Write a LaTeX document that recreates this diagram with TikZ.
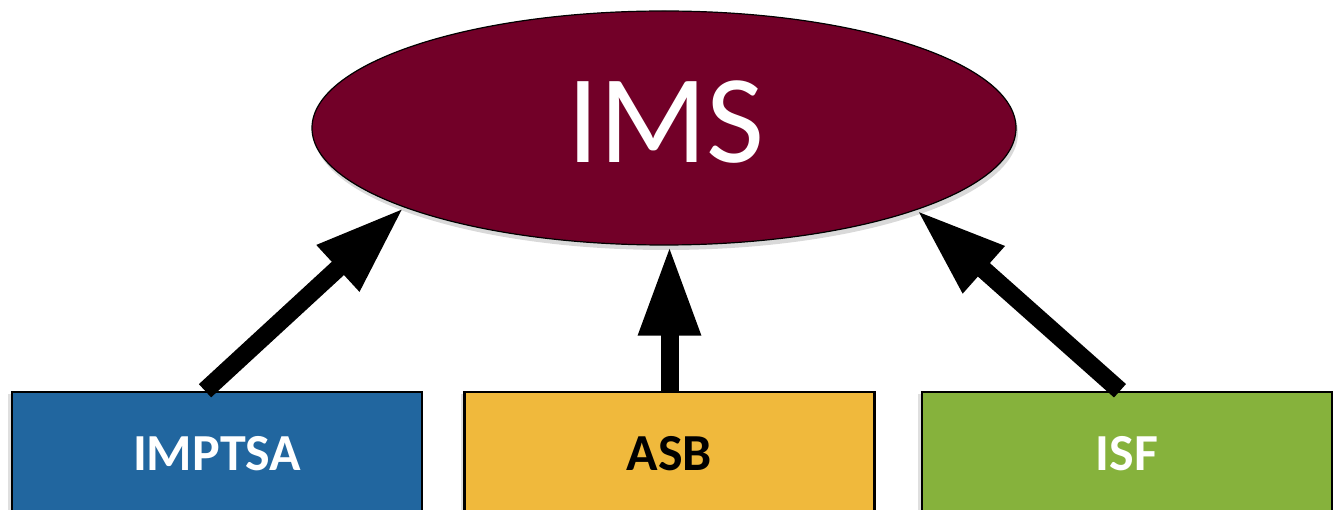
\documentclass[tikz,border=0pt]{standalone}
\usepackage{fontspec}
\setmainfont{Carlito}
\usetikzlibrary{shapes.geometric,arrows.meta,shadows,calc}
\definecolor{imsred}{HTML}{720028}
\definecolor{boxblue}{HTML}{21669F}
\definecolor{boxyellow}{HTML}{F0B93C}
\definecolor{boxgreen}{HTML}{86B23C}
\tikzset{
  unitbox/.style={draw=black, line width=2.5pt, minimum width=410pt, minimum height=140pt, inner sep=0pt,
    drop shadow={shadow xshift=-4pt, shadow yshift=-2pt, opacity=0.25}},
  boxlabel/.style={font=\bfseries\fontsize{52}{60}\selectfont, inner sep=0pt},
  bigarrow/.style={line width=18pt, -{Triangle[length=90pt,width=58pt]}, shorten >=0pt}
}
\begin{document}
\begin{tikzpicture}[x=1pt,y=-1pt]
\useasboundingbox (0,0) rectangle (1336,510);
\clip (0,0) rectangle (1336,510);
% central ellipse
\node[ellipse, draw=black, line width=1.2pt, fill=imsred, minimum width=704pt, minimum height=234pt, inner sep=0pt,
  drop shadow={shadow xshift=2pt, shadow yshift=-5pt, opacity=0.3}] (ims) at (664,128) {};
\node[text=white, font=\fontsize{126}{140}\selectfont, inner sep=0pt] (imstext) at (666,122) {IMS};
% boxes
\node[unitbox, fill=boxblue] (b1) at (217,462) {};
\node[unitbox, fill=boxyellow] (b2) at (669.5,462) {};
\node[unitbox, fill=boxgreen] (b3) at (1127,462) {};
\node[boxlabel, text=white] (t1) at (217,454) {IMPTSA};
\node[boxlabel, text=black] (t2) at (669.5,454) {ASB};
\node[boxlabel, text=white] (t3) at (1127,454) {ISF};
% arrows
\draw[bigarrow] ($(b1.north)+(-12,0)$) -- (ims.197.8);
\draw[bigarrow] (b2.north) -- (b2.north |- ims.south);
\draw[bigarrow] ($(b3.north)+(-7,0)$) -- (ims.342.2);
\end{tikzpicture}
\end{document}
